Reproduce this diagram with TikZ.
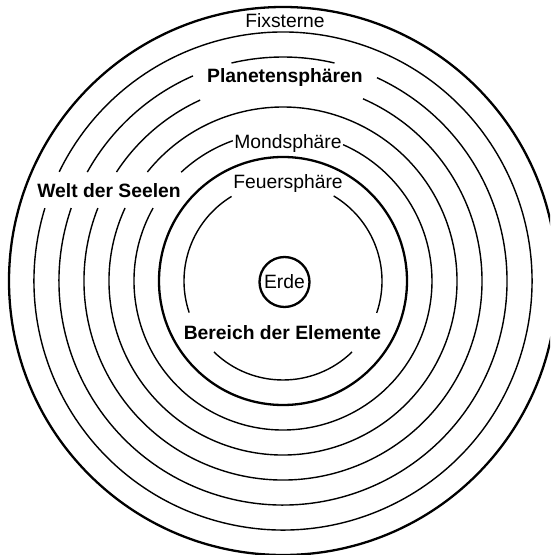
\documentclass[tikz,border=0pt]{standalone}
\usepackage{fontspec}
\setmainfont{Liberation Sans}
\begin{document}
\begin{tikzpicture}[x=1pt,y=1pt,
  ring/.style={line width=1.4pt, draw=black},
  boldring/.style={line width=2.3pt, draw=black},
  lbl/.style={anchor=base, inner sep=0pt, font=\fontsize{19.3}{23}\selectfont},
  blbl/.style={anchor=base, inner sep=0pt, font=\fontsize{19.3}{23}\selectfont\bfseries}]
\useasboundingbox (0,0) rectangle (550,555);
\fill[white] (0,0) rectangle (550,555);
\clip (0,0) rectangle (550,555);
\coordinate (C) at (283,274);
% full circles
\draw[boldring] (C) circle[radius=274];
\draw[boldring] (C) circle[radius=124];
% r = 249
\draw[ring] (C) ++(163.0:249) arc[start angle=163.0, end angle=514.0, radius=249];
% r = 224
\draw[ring] (C) ++(76.7:224) arc[start angle=76.7, end angle=103.3, radius=224];
\draw[ring] (C) ++(113.7:224) arc[start angle=113.7, end angle=150.9, radius=224];
\draw[ring] (C) ++(161.0:224) arc[start angle=161.0, end angle=425.2, radius=224];
% r = 199
\draw[ring] (C) ++(114.6:199) arc[start angle=114.6, end angle=146.8, radius=199];
\draw[ring] (C) ++(158.5:199) arc[start angle=158.5, end angle=426.3, radius=199];
% r = 174
\draw[ring] (C) ++(155.2:174) arc[start angle=155.2, end angle=501.2, radius=174];
% r = 149
\draw[ring] (C) ++(109.7:149) arc[start angle=109.7, end angle=133.1, radius=149];
\draw[ring] (C) ++(150.7:149) arc[start angle=150.7, end angle=426.2, radius=149];
% r = 99
\draw[ring] (C) ++(121.3:99) arc[start angle=121.3, end angle=198.6, radius=99];
\draw[ring] (C) ++(225.8:99) arc[start angle=225.8, end angle=314.2, radius=99];
\draw[ring] (C) ++(341.2:99) arc[start angle=341.2, end angle=419.2, radius=99];
% Erde
\node[circle, boldring, minimum size=50pt, inner sep=0pt, font=\fontsize{19.3}{23}\selectfont] (erde) at (284.5,273) {Erde};
% labels
\node[lbl] (fix) at (285,527) {Fixsterne};
\node[blbl] (plan) at (285,472) {Planetensphären};
\node[lbl] (mond) at (288,406) {Mondsphäre};
\node[lbl] (feuer) at (288,366.5) {Feuersphäre};
\node[blbl] (welt) at (109,357) {Welt der Seelen};
\node[blbl] (elem) at (282.5,215) {Bereich der Elemente};
\end{tikzpicture}
\end{document}
